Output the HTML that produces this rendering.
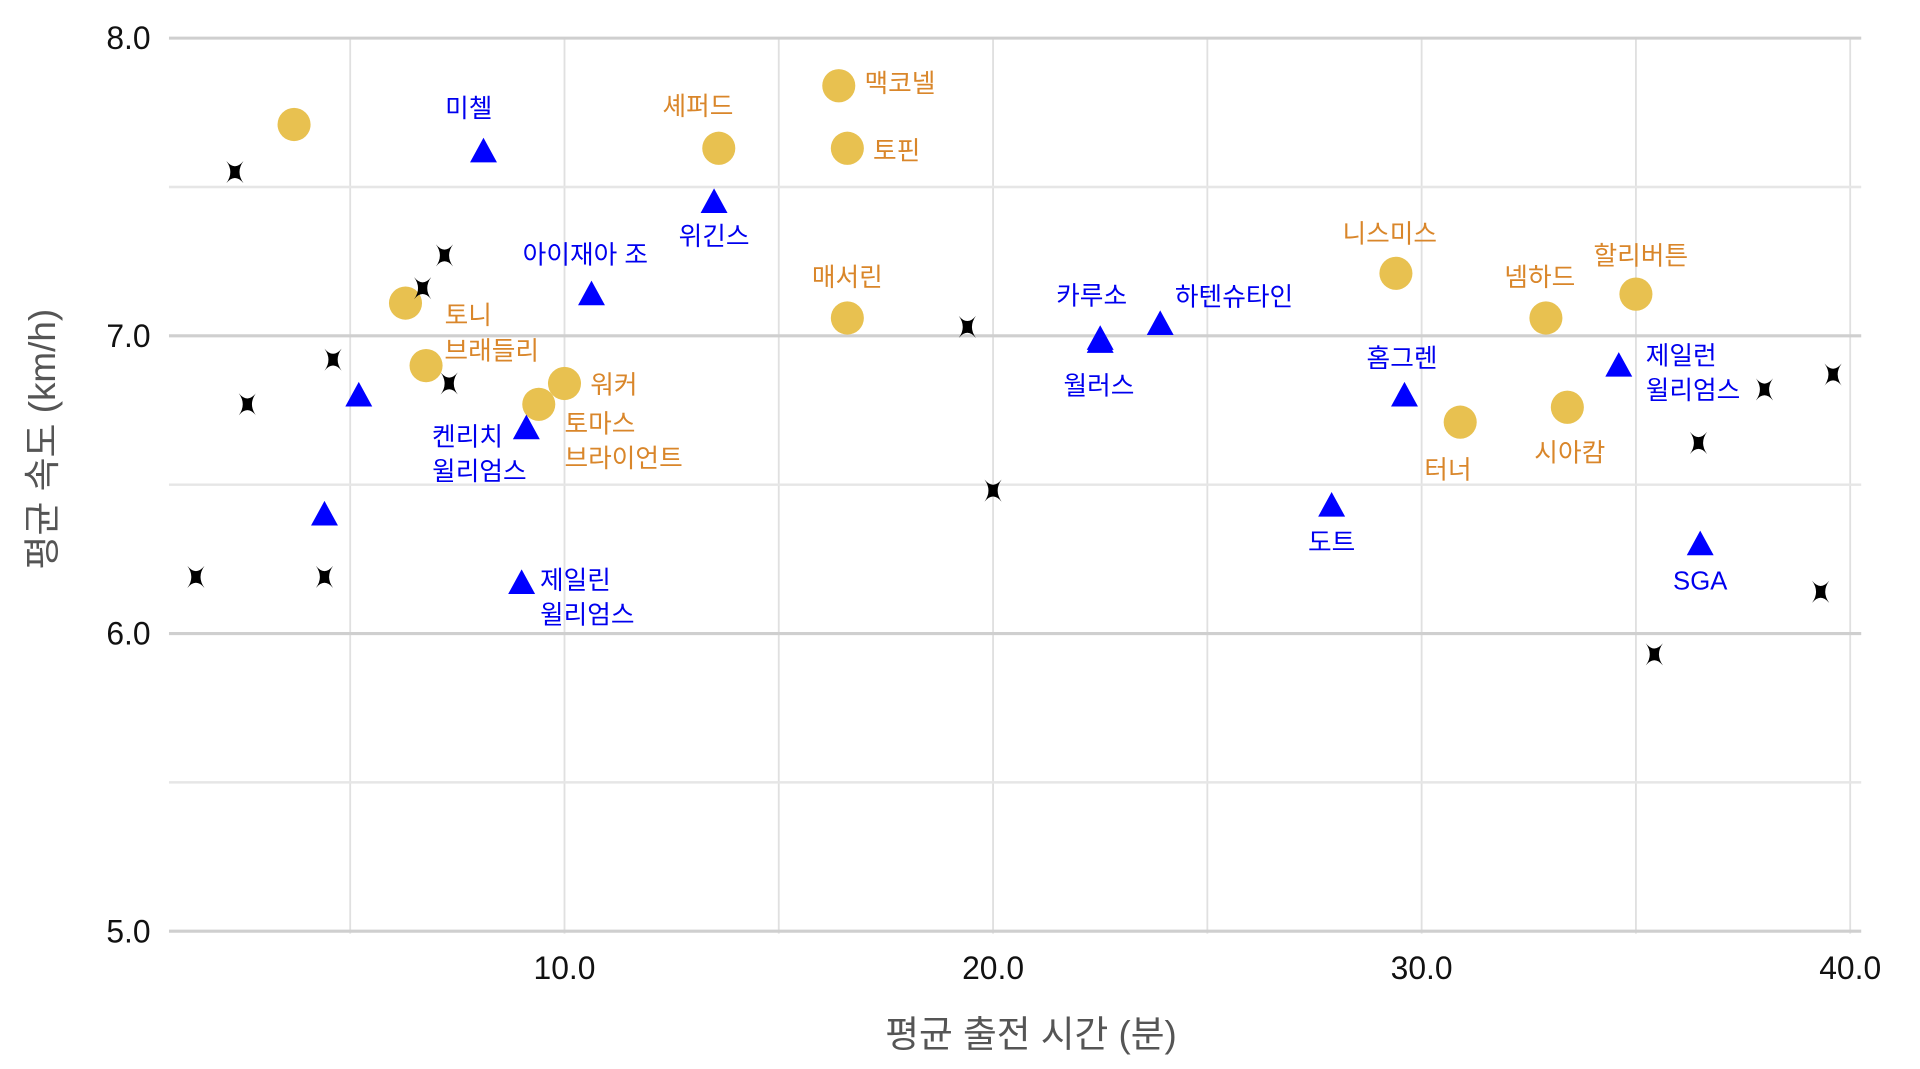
<!DOCTYPE html>
<html><head><meta charset="utf-8">
<style>
html,body{margin:0;padding:0;background:#fff;}
svg{display:block;font-family:"Liberation Sans","Noto Sans CJK KR",sans-serif;}
</style></head>
<body>
<svg id="chart" width="1920" height="1069" viewBox="0 0 1568 869" preserveAspectRatio="none" xmlns="http://www.w3.org/2000/svg"></svg>
<script>
// ---- data ----
const goldX = [3.69, 6.29, 6.77, 9.4, 10.0, 13.6, 16.4, 16.6, 16.6, 29.4, 32.9, 35.0, 30.9, 33.4];
const goldY = [7.71, 7.11, 6.90, 6.77, 6.84, 7.63, 7.84, 7.63, 7.06, 7.21, 7.06, 7.14, 6.71, 6.76];
const goldLabels = ["", "토니", "브래들리", "토마스\n브라이언트", "워커", "셰퍼드", "맥코넬", "토핀", "매서린", "니스미스", "넴하드", "할리버튼", "터너", "시아캄"];
const blueX = [8.11, 5.2, 4.4, 9.11, 9.0, 10.63, 13.49, 22.5, 22.5, 23.9, 29.6, 27.9, 34.6, 36.5];
const blueY = [7.62, 6.80, 6.40, 6.69, 6.17, 7.14, 7.45, 6.99, 6.98, 7.04, 6.80, 6.43, 6.90, 6.30];
const blueLabels = ["미첼", "", "", "켄리치\n윌리엄스", "제일린\n윌리엄스", "아이재아 조", "위긴스", "카루소", "월러스", "하텐슈타인", "홈그렌", "도트", "제일런\n윌리엄스", "SGA"];
const crossX = [2.31, 7.2, 6.69, 4.6, 2.6, 7.31, 1.4, 4.4, 19.4, 20.0, 35.43, 36.46, 38.0, 39.6, 39.31];
const crossY = [7.55, 7.27, 7.16, 6.92, 6.77, 6.84, 6.19, 6.19, 7.03, 6.48, 5.93, 6.64, 6.82, 6.87, 6.14];
const xTicks = [10, 20, 30, 40];
const xTickLabels = ["10.0", "20.0", "30.0", "40.0"];
const xMinor = [5, 15, 25, 35];
const yTicks = [8, 7, 6, 5];
const yTickLabels = ["8.0", "7.0", "6.0", "5.0"];
const yMinor = [7.5, 6.5, 5.5];

// label placement (layout, not data): [dx, dy, anchor]
const goldPos = [[0,0,"start"],[32,10,"start"],[15,-12,"start"],[21,16,"start"],[21,1,"start"],[-17,-34,"middle"],[21,-2,"start"],[21,2,"start"],[0,-33,"middle"],[-5,-32,"middle"],[-5,-33,"middle"],[4,-31,"middle"],[-10,39,"middle"],[2,37,"middle"]];
const bluePos = [[-12,-35,"middle"],[0,0,"start"],[0,0,"start"],[-77,7,"start"],[15,-2,"start"],[-5,-32,"middle"],[0,28,"middle"],[-7,-35,"middle"],[-1,36,"middle"],[12,-22,"start"],[-2,-30,"middle"],[0,30,"middle"],[22,-8,"start"],[0,30,"middle"]];

const L=138, R=1520, T=31, B=759;
const xs = v => 461 + (v-10)*35;
const ys = v => 31 + (8-v)*242;
const NS="http://www.w3.org/2000/svg";
const svg=document.getElementById('chart');
function mk(tag, attrs, parent){const e=document.createElementNS(NS,tag);for(const k in attrs)e.setAttribute(k,attrs[k]);(parent||svg).appendChild(e);return e;}

const grid=mk('g',{});


xMinor.concat(xTicks).forEach(v=>{const l=mk('line',{x1:xs(v),x2:xs(v),y1:T,y2:B,stroke:'#e0e0e0','stroke-width':1.5},grid);

});
yMinor.forEach(v=>{const l=mk('line',{x1:L,x2:R,y1:ys(v),y2:ys(v),stroke:'#e6e6e6','stroke-width':2},grid);

});
yTicks.forEach((v,i)=>{const l=mk('line',{x1:L,x2:R,y1:ys(v),y2:ys(v),stroke:'#cfcfcf','stroke-width':2.5},grid);


const t=mk('text',{x:123,y:ys(v)+9,'text-anchor':'end','font-size':26,fill:'#111'});t.textContent=yTickLabels[i];

});
xTicks.forEach((v,i)=>{const t=mk('text',{x:xs(v),y:796,'text-anchor':'middle','font-size':26,fill:'#111'});t.textContent=xTickLabels[i];

});
const xt=mk('text',{x:842,y:851,'text-anchor':'middle','font-size':30,fill:'#555'});xt.textContent='평균 출전 시간 (분)';


const yt=mk('text',{x:0,y:0,'text-anchor':'middle','font-size':30,fill:'#555',transform:'translate(45,357) rotate(-90)'});yt.textContent='평균 속도 (km/h)';



function label(txt,x,y,anchor,color){
  if(!txt)return;
  const lines=txt.split('\n');
  lines.forEach((s,i)=>{const t=mk('text',{x:x,y:y+i*28,'text-anchor':anchor,'font-size':21,fill:color});t.textContent=s;
  
  });
}
goldX.forEach((v,i)=>{const cx=xs(v),cy=ys(goldY[i]);
const c=mk('circle',{cx:cx,cy:cy,r:13.5,fill:'#E8C150'});


const p=goldPos[i];label(goldLabels[i],cx+p[0],cy+p[1]+7,p[2],'#D9862A');});
blueX.forEach((v,i)=>{const cx=xs(v),cy=ys(blueY[i]);
const tr=mk('polygon',{points:`${cx},${cy-11} ${cx-11},${cy+9} ${cx+11},${cy+9}`,fill:'#0000FF'});


const p=bluePos[i];label(blueLabels[i],cx+p[0],cy+p[1]+7,p[2],'#0000EE');});
crossX.forEach((v,i)=>{const cx=xs(v),cy=ys(crossY[i]);
const a=7,b=9;
const g=mk('path',{d:`M${cx-a},${cy-b} Q${cx},${cy-0.5} ${cx+a},${cy-b} Q${cx+0.5},${cy} ${cx+a},${cy+b} Q${cx},${cy+0.5} ${cx-a},${cy+b} Q${cx-0.5},${cy} ${cx-a},${cy-b} Z`,fill:'#000'});

});
</script>
</body></html>
